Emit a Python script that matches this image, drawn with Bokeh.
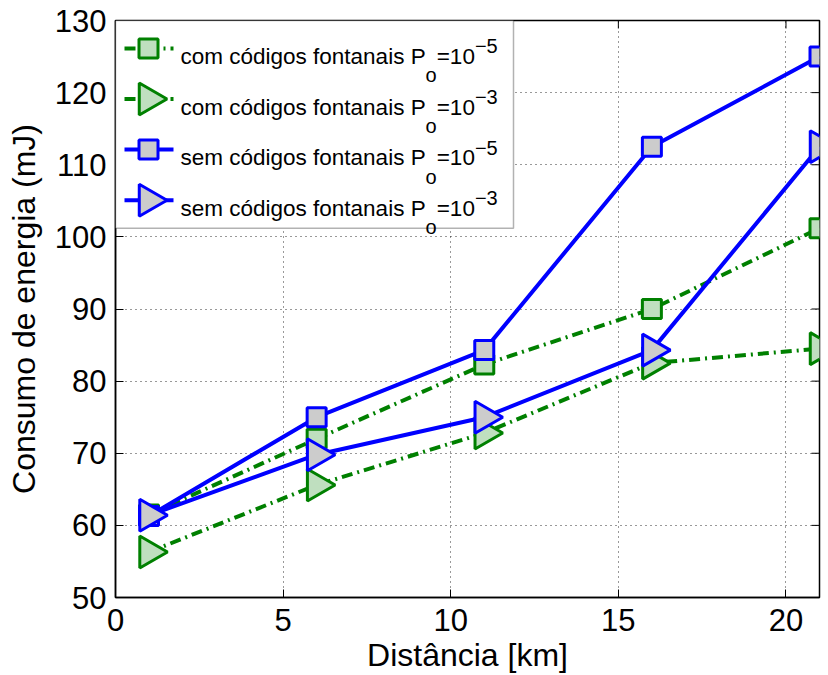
from bokeh.plotting import figure
from bokeh.models import Range1d, FixedTicker, BoxAnnotation, Label
from bokeh.embed import file_html
from bokeh.resources import INLINE

# ---------------- data ----------------
distance_km = [1, 6, 11, 16, 21]
com_po_1e5 = [61.5, 72.0, 82.3, 90.0, 101.2]   # green squares
com_po_1e3 = [56.3, 65.6, 72.8, 82.5, 84.5]    # green triangles
sem_po_1e5 = [61.3, 75.0, 84.3, 112.5, 125.0]  # blue squares
sem_po_1e3 = [61.4, 69.8, 75.0, 84.3, 112.5]   # blue triangles

x_ticks = [0, 5, 10, 15, 20]
y_ticks = [50, 60, 70, 80, 90, 100, 110, 120, 130]
x_label = "Distância [km]"
y_label = "Consumo de energia (mJ)"

legend_prefix = ["com códigos fontanais P", "com códigos fontanais P",
                 "sem códigos fontanais P", "sem códigos fontanais P"]
legend_sub = ["o", "o", "o", "o"]
legend_mid = ["=10", "=10", "=10", "=10"]
legend_sup = ["\u22125", "\u22123", "\u22125", "\u22123"]

# ---------------- styles ----------------
GREEN = "#008000"
GREEN_FILL = "#bfdfbf"
BLUE = "#0000ff"
GREY_FILL = "#cccccc"
FONT = "Liberation Sans"

series = [
    dict(y=com_po_1e5, color=GREEN, fill=GREEN_FILL, dash="11 5 2 5", marker="square", size=19, angle=0.0),
    dict(y=com_po_1e3, color=GREEN, fill=GREEN_FILL, dash="11 5 2 5", marker="triangle", size=32, angle=-1.5708),
    dict(y=sem_po_1e5, color=BLUE, fill=GREY_FILL, dash="solid", marker="square", size=19, angle=0.0),
    dict(y=sem_po_1e3, color=BLUE, fill=GREY_FILL, dash="solid", marker="triangle", size=32, angle=-1.5708),
]

X0, X1 = 0, 21
Y0, Y1 = 50, 130
W, H = 828, 675
FW, FH = 704, 578          # frame size in px
FL, FT = 115, 20           # frame offset inside canvas

p = figure(width=W, height=H,
           x_range=Range1d(X0, X1), y_range=Range1d(Y0, Y1),
           output_backend="svg", toolbar_location=None,
           min_border_left=FL, min_border_right=W - FL - FW,
           min_border_top=FT, min_border_bottom=H - FT - FH,
           background_fill_color="white", border_fill_color="white")

p.outline_line_color = "black"
p.outline_line_width = 1.5

for ax, ticks in ((p.xaxis[0], x_ticks), (p.yaxis[0], y_ticks)):
    ax.ticker = FixedTicker(ticks=ticks)
    ax.minor_tick_line_color = None
    ax.major_tick_in = 8
    ax.major_tick_out = 0
    ax.major_tick_line_color = "black"
    ax.major_tick_line_width = 1
    ax.axis_line_color = "black"
    ax.axis_line_width = 1.5
    ax.major_label_text_font = FONT
    ax.major_label_text_font_size = "31px"
    ax.major_label_text_color = "black"
    ax.axis_label_text_font = FONT
    ax.axis_label_text_font_size = "32px"
    ax.axis_label_text_font_style = "normal"
    ax.axis_label_text_color = "black"

p.xaxis[0].axis_label = x_label
p.yaxis[0].axis_label = y_label
p.xaxis[0].major_label_standoff = 11
p.xaxis[0].axis_label_standoff = 3
p.yaxis[0].major_label_standoff = 9
p.yaxis[0].axis_label_standoff = 10

for g in (p.xgrid[0], p.ygrid[0]):
    g.grid_line_color = "black"
    g.grid_line_alpha = 0.8
    g.grid_line_dash = "1 4"
    g.grid_line_width = 1
p.xgrid[0].ticker = FixedTicker(ticks=x_ticks)
p.ygrid[0].ticker = FixedTicker(ticks=y_ticks)

# inward ticks on the top and right edges (box on)
TICK_PX = 8
tick_dy = TICK_PX * (Y1 - Y0) / FH
tick_dx = TICK_PX * (X1 - X0) / FW
p.segment(x0=x_ticks, y0=[Y1] * len(x_ticks), x1=x_ticks, y1=[Y1 - tick_dy] * len(x_ticks),
          line_color="black", line_width=1)
p.segment(x0=[X1] * len(y_ticks), y0=y_ticks, x1=[X1 - tick_dx] * len(y_ticks), y1=y_ticks,
          line_color="black", line_width=1)

# ---------------- data series ----------------
for s in series:
    p.line(distance_km, s["y"], line_color=s["color"], line_width=4, line_dash=s["dash"])
    p.scatter(distance_km, s["y"], marker=s["marker"], size=s["size"], angle=s["angle"],
              line_color=s["color"], line_width=3, fill_color=s["fill"], fill_alpha=1.0)

# ---------------- legend (manual, canvas px -> data) ----------------
def xd(px):
    return X0 + (px - FL) * (X1 - X0) / FW

def yd(py):
    return Y1 - (py - FT) * (Y1 - Y0) / FH

ARIAL_W = {"c": .5, "o": .556, "m": .833, " ": .278, "ó": .556, "d": .556, "i": .222,
           "g": .556, "s": .5, "f": .278, "n": .556, "t": .278, "a": .556, "P": .667,
           "e": .556, "=": .584, "1": .556, "0": .556, "\u2212": .584, "5": .556, "3": .556}

def text_w(t, size):
    return sum(ARIAL_W.get(ch, .556) for ch in t) * size

LB_L, LB_R, LB_T, LB_B = 115, 513, 20, 228
p.add_layout(BoxAnnotation(left=xd(LB_L), right=xd(LB_R), top=yd(LB_T), bottom=yd(LB_B),
                           fill_color="white", fill_alpha=1.0, line_color="black",
                           line_width=1.5, level="annotation"))

MAIN_SIZE, SUB_SIZE = 22.5, 20
row_c = [48.0, 98.7, 149.3, 200.0]
for i, s in enumerate(series):
    cy = row_c[i]
    r = p.line([xd(124), xd(173)], [yd(cy), yd(cy)], line_color=s["color"], line_width=4,
               line_dash=s["dash"])
    r.level = "overlay"
    m = p.scatter([xd(148)], [yd(cy)], marker=s["marker"], size=s["size"], angle=s["angle"],
                  line_color=s["color"], line_width=3, fill_color=s["fill"], fill_alpha=1.0)
    m.level = "overlay"
    base = cy + 8
    tx = 180
    p.add_layout(Label(x=xd(tx), y=yd(base), text=legend_prefix[i], text_font=FONT,
                       text_font_size=f"{MAIN_SIZE}px", text_baseline="alphabetic",
                       text_align="left", text_color="black", level="overlay"))
    tx += text_w(legend_prefix[i], MAIN_SIZE)
    p.add_layout(Label(x=xd(tx), y=yd(base + 19), text=legend_sub[i], text_font=FONT,
                       text_font_size=f"{SUB_SIZE}px", text_baseline="alphabetic",
                       text_align="left", text_color="black", level="overlay"))
    tx += text_w(legend_sub[i], SUB_SIZE)
    p.add_layout(Label(x=xd(tx), y=yd(base), text=legend_mid[i], text_font=FONT,
                       text_font_size=f"{MAIN_SIZE}px", text_baseline="alphabetic",
                       text_align="left", text_color="black", level="overlay"))
    tx += text_w(legend_mid[i], MAIN_SIZE)
    p.add_layout(Label(x=xd(tx), y=yd(base - 10), text=legend_sup[i], text_font=FONT,
                       text_font_size=f"{SUB_SIZE}px", text_baseline="alphabetic",
                       text_align="left", text_color="black", level="overlay"))

open("out.html", "w").write(file_html(p, INLINE))
